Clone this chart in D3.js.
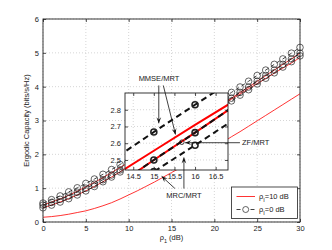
<!DOCTYPE html>
<html>
<head>
<meta charset="utf-8">
<script src="https://cdn.jsdelivr.net/npm/d3@7"></script>
<style>
    body { margin: 0; background: #fff; }
    text { font-family: "Liberation Sans", Arial, sans-serif; }
</style>
</head>
<body>
<svg id="chart" width="332" height="250"></svg>
<script>
// values
const snrDb = [0, 1, 2, 3, 4, 5, 6, 7, 8, 9, 10, 11, 12, 13, 14, 15, 16, 17, 18, 19, 20, 21, 22, 23, 24, 25, 26, 27, 28, 29, 30];
const mmseRho0 = [0.56, 0.66, 0.77, 0.89, 1.01, 1.14, 1.27, 1.41, 1.55, 1.70, 1.85, 2.00, 2.16, 2.33, 2.50, 2.667, 2.83, 2.99, 3.16, 3.33, 3.49, 3.66, 3.83, 3.99, 4.16, 4.33, 4.49, 4.66, 4.82, 4.99, 5.16];
const zfRho0 = [0.42, 0.50, 0.59, 0.69, 0.80, 0.92, 1.05, 1.19, 1.33, 1.48, 1.65, 1.81, 1.98, 2.15, 2.33, 2.50, 2.663, 2.83, 2.99, 3.16, 3.33, 3.49, 3.66, 3.83, 3.99, 4.16, 4.33, 4.49, 4.66, 4.82, 4.99];
const mrcRho0 = [0.50, 0.58, 0.67, 0.77, 0.88, 1.00, 1.12, 1.25, 1.39, 1.54, 1.69, 1.84, 1.99, 2.14, 2.29, 2.43, 2.588, 2.75, 2.91, 3.08, 3.25, 3.41, 3.58, 3.75, 3.91, 4.08, 4.25, 4.41, 4.58, 4.74, 4.91];
const mmseRho10 = [0.50, 0.59, 0.68, 0.79, 0.91, 1.04, 1.17, 1.31, 1.46, 1.61, 1.76, 1.92, 2.08, 2.24, 2.40, 2.555, 2.71, 2.86, 3.01, 3.17, 3.32, 3.47, 3.63, 3.78, 3.94, 4.09, 4.24, 4.40, 4.55, 4.70, 4.86];
const zfRho10 = [0.42, 0.50, 0.59, 0.69, 0.80, 0.92, 1.05, 1.19, 1.33, 1.48, 1.65, 1.81, 1.98, 2.15, 2.33, 2.50, 2.663, 2.83, 2.99, 3.16, 3.33, 3.49, 3.66, 3.83, 3.99, 4.16, 4.33, 4.49, 4.66, 4.82, 4.99];
const mrcRho10 = [0.14, 0.16, 0.19, 0.23, 0.28, 0.33, 0.40, 0.48, 0.57, 0.68, 0.80, 0.92, 1.05, 1.18, 1.32, 1.46, 1.60, 1.75, 1.90, 2.05, 2.20, 2.36, 2.52, 2.67, 2.83, 2.99, 3.15, 3.31, 3.47, 3.63, 3.79];

const xTicks = [0, 5, 10, 15, 20, 25, 30];
const yTicks = [0, 1, 2, 3, 4, 5, 6];
const insetXTicks = [14.5, 15, 15.5, 16, 16.5];
const insetYTicks = [2.5, 2.6, 2.7, 2.8];
const legendLabels = ['10 dB', '0 dB'];

const FONT = 7.5;
const svg = d3.select('#chart');

// main scales
const x = d3.scaleLinear().domain([0, 30]).range([43, 300]);
const y = d3.scaleLinear().domain([0, 6]).range([222, 19]);

// inset scales
const ix = d3.scaleLinear().domain([14.3, 16.8]).range([125, 228]);
const iy = d3.scaleLinear().domain([2.44, 2.9]).range([170, 93]);

const toPoints = (vals) => snrDb.map((d, i) => [d, vals[i]]);
const redSeries = [mmseRho10, zfRho10, mrcRho10].map(toPoints);
const blackSeries = [mmseRho0, zfRho0, mrcRho0].map(toPoints);

function drawGrid(g, xs, ys, xt, yt) {
    const [x0, x1] = xs.range();
    const [y0, y1] = ys.range();
    g.selectAll('.gx').data(xt).join('line')
        .attr('x1', (d) => xs(d)).attr('x2', (d) => xs(d))
        .attr('y1', y0).attr('y2', y1);
    g.selectAll('.gy').data(yt).join('line').attr('class', 'gy')
        .attr('x1', x0).attr('x2', x1)
        .attr('y1', (d) => ys(d)).attr('y2', (d) => ys(d));
    g.selectAll('line')
        .attr('stroke', '#c4c4c4')
        .attr('stroke-width', 0.7)
        .attr('stroke-dasharray', '1,2');
}

function drawAxes(g, xs, ys, xt, yt) {
    const [x0, x1] = xs.range();
    const [y0, y1] = ys.range();
    const style = (sel) => {
        sel.attr('font-size', FONT).attr('font-family', null);
        sel.select('.domain').remove();
        sel.selectAll('.tick line').attr('stroke', '#222').attr('stroke-width', 0.8);
        sel.selectAll('.tick text').attr('fill', '#222');
    };
    g.append('g').attr('transform', `translate(0,${y0})`)
        .call(d3.axisBottom(xs).tickValues(xt).tickSize(-3).tickPadding(4).tickFormat(d3.format('')))
        .call(style);
    g.append('g').attr('transform', `translate(0,${y1})`)
        .call(d3.axisTop(xs).tickValues(xt).tickSize(-3).tickFormat(''))
        .call(style);
    g.append('g').attr('transform', `translate(${x0},0)`)
        .call(d3.axisLeft(ys).tickValues(yt).tickSize(-3).tickPadding(4).tickFormat(d3.format('')))
        .call(style);
    g.append('g').attr('transform', `translate(${x1},0)`)
        .call(d3.axisRight(ys).tickValues(yt).tickSize(-3).tickFormat(''))
        .call(style);
    g.append('rect')
        .attr('x', x0).attr('y', y1)
        .attr('width', x1 - x0).attr('height', y0 - y1)
        .attr('fill', 'none').attr('stroke', '#222').attr('stroke-width', 0.9);
}

function drawSeries(g, xs, ys, lw, dash, r, mw) {
    const line = d3.line().x((d) => xs(d[0])).y((d) => ys(d[1]));
    g.selectAll('.red').data(redSeries).join('path').attr('class', 'red')
        .attr('d', line).attr('fill', 'none')
        .attr('stroke', '#ff0000').attr('stroke-width', lw);
    g.selectAll('.blk').data(blackSeries).join('path').attr('class', 'blk')
        .attr('d', line).attr('fill', 'none')
        .attr('stroke', '#111').attr('stroke-width', lw)
        .attr('stroke-dasharray', dash);
    blackSeries.forEach((s) => {
        g.append('g').selectAll('circle').data(s).join('circle')
            .attr('cx', (d) => xs(d[0])).attr('cy', (d) => ys(d[1]))
            .attr('r', r).attr('fill', 'none')
            .attr('stroke', '#222').attr('stroke-width', mw);
    });
}

// main plot
svg.append('rect').attr('width', 332).attr('height', 250).attr('fill', '#fff');
drawGrid(svg.append('g'), x, y, xTicks, yTicks);
drawSeries(svg.append('g'), x, y, 0.8, '4,3', 3.3, 0.7);
drawAxes(svg.append('g'), x, y, xTicks, yTicks);

// axis titles
svg.append('text')
    .attr('x', (x.range()[0] + x.range()[1]) / 2).attr('y', 240)
    .attr('text-anchor', 'middle').attr('font-size', FONT).attr('fill', '#222')
    .call((t) => {
        t.append('tspan').text('ρ');
        t.append('tspan').attr('baseline-shift', 'sub').attr('font-size', 5.5).text('1');
        t.append('tspan').text(' (dB)');
    });
svg.append('text')
    .attr('transform', `translate(29,${(y.range()[0] + y.range()[1]) / 2}) rotate(-90)`)
    .attr('text-anchor', 'middle').attr('font-size', FONT).attr('fill', '#222')
    .text('Ergodic Capacity (bits/s/Hz)');

// inset
const inset = svg.append('g');
inset.append('defs').append('clipPath').attr('id', 'insetClip')
    .append('rect')
    .attr('x', ix.range()[0]).attr('y', iy.range()[1])
    .attr('width', ix.range()[1] - ix.range()[0])
    .attr('height', iy.range()[0] - iy.range()[1]);
inset.append('rect')
    .attr('x', ix.range()[0]).attr('y', iy.range()[1])
    .attr('width', ix.range()[1] - ix.range()[0])
    .attr('height', iy.range()[0] - iy.range()[1])
    .attr('fill', '#fff');
drawGrid(inset.append('g'), ix, iy, insetXTicks, insetYTicks);
drawSeries(inset.append('g').attr('clip-path', 'url(#insetClip)'), ix, iy, 2, '6,4', 3, 1.6);
drawAxes(inset.append('g'), ix, iy, insetXTicks, insetYTicks);

// annotations
const ann = svg.append('g');
function arrow(p0, p1) {
    ann.append('line')
        .attr('x1', p0[0]).attr('y1', p0[1]).attr('x2', p1[0]).attr('y2', p1[1])
        .attr('stroke', '#111').attr('stroke-width', 0.8);
    const a = Math.atan2(p1[1] - p0[1], p1[0] - p0[0]);
    const len = 6, hw = 2.4;
    const bx = p1[0] - len * Math.cos(a), by = p1[1] - len * Math.sin(a);
    ann.append('path')
        .attr('d', `M${p1[0]},${p1[1]}L${bx - hw * Math.sin(a)},${by + hw * Math.cos(a)}` +
            `L${p1[0] - 0.6 * len * Math.cos(a)},${p1[1] - 0.6 * len * Math.sin(a)}` +
            `L${bx + hw * Math.sin(a)},${by - hw * Math.cos(a)}Z`)
        .attr('fill', '#111');
}
const ip = (a, b) => [ix(a), iy(b)];
const label = (p, txt, anchor) => ann.append('text')
    .attr('x', p[0]).attr('y', p[1]).attr('text-anchor', anchor)
    .attr('font-size', FONT).attr('fill', '#222').text(txt);

label(ip(15.125, 2.972), 'MMSE/MRT', 'middle');
arrow(ip(15.12, 2.945), ip(15.12, 2.719));
arrow(ip(15.23, 2.945), ip(15.526, 2.652));

ann.append('circle').attr('cx', ix(15.68)).attr('cy', iy(2.606)).attr('r', 2.3)
    .attr('fill', 'none').attr('stroke', '#111').attr('stroke-width', 0.8);
arrow(ip(17.09, 2.603), ip(15.76, 2.603));
label(ip(17.14, 2.587), 'ZF/MRT', 'start');

label(ip(15.73, 2.27), 'MRC/MRT', 'middle');
arrow(ip(15.73, 2.329), ip(15.73, 2.515));
arrow([x(15.4), y(0.99)], [x(13.85), y(1.35)]);

// legend
const lg = svg.append('g');
lg.append('rect').attr('x', 231.5).attr('y', 187).attr('width', 66).attr('height', 31.5)
    .attr('fill', '#fff').attr('stroke', '#222').attr('stroke-width', 0.8);
lg.append('line').attr('x1', 236.5).attr('x2', 255).attr('y1', 196.5).attr('y2', 196.5)
    .attr('stroke', '#ff0000').attr('stroke-width', 0.8);
lg.append('line').attr('x1', 236.5).attr('x2', 255).attr('y1', 209.5).attr('y2', 209.5)
    .attr('stroke', '#111').attr('stroke-width', 0.8).attr('stroke-dasharray', '4,3');
lg.append('circle').attr('cx', 245.7).attr('cy', 209.5).attr('r', 3)
    .attr('fill', '#fff').attr('stroke', '#222').attr('stroke-width', 0.7);
legendLabels.forEach((t, i) => {
    lg.append('text').attr('x', 259).attr('y', 199 + i * 13)
        .attr('font-size', FONT).attr('fill', '#222')
        .call((s) => {
            s.append('tspan').text('ρ');
            s.append('tspan').attr('baseline-shift', 'sub').attr('font-size', 5.5).text('I');
            s.append('tspan').attr('baseline-shift', 'baseline').text('=' + t);
        });
});
</script>
</body>
</html>
